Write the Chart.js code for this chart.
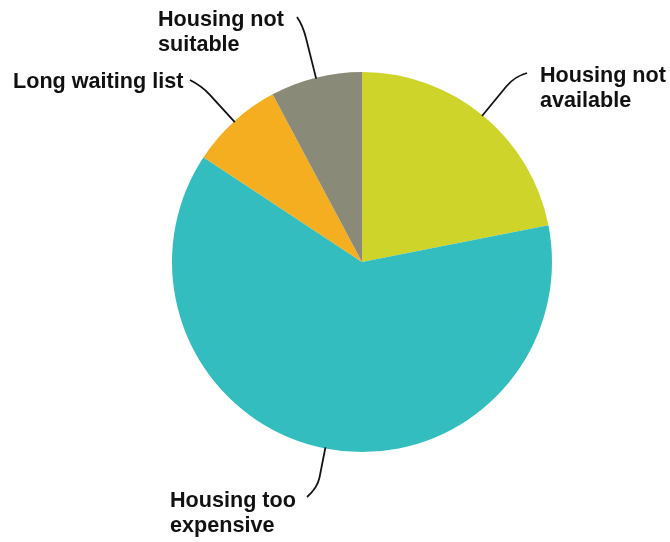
<!DOCTYPE html>
<html>
<head>
<meta charset="utf-8">
<script src="https://cdn.jsdelivr.net/npm/chart.js@4/dist/chart.umd.min.js"></script>
<style>
  html, body { margin: 0; padding: 0; background: #ffffff; }
  #wrap { width: 670px; height: 542px; position: relative; }
</style>
</head>
<body>
<div id="wrap"><canvas id="c" width="670" height="542"></canvas></div>
<script>
// ---- Data ----
const categories = ['Housing not available', 'Housing too expensive', 'Long waiting list', 'Housing not suitable'];
const shares = [21.9, 62.4, 7.9, 7.8];
const labelLines = [['Housing not', 'available'], ['Housing too', 'expensive'], ['Long waiting list'], ['Housing not', 'suitable']];
const sliceColors = ['#CFD42A', '#33BDBF', '#F5AE1F', '#8A8A78'];

// ---- Label layout (positions of the annotation text and leader hooks) ----
const labelLayout = [
  { x: 540, y: 82,  ext: 50, end: [527, 73] },
  { x: 170, y: 507, ext: 40, end: [307, 497] },
  { x: 13,  y: 88,  ext: 48, end: [190, 80] },
  { x: 158, y: 26,  ext: 54, end: [297, 17] }
];

const leaderPlugin = {
  id: 'leaderLabels',
  afterDraw(chart) {
    const ctx = chart.ctx;
    const meta = chart.getDatasetMeta(0);
    ctx.save();
    ctx.font = 'bold 21.6px "Liberation Sans", Arial, sans-serif';
    ctx.fillStyle = '#111111';
    ctx.strokeStyle = '#111111';
    ctx.lineWidth = 1.8;
    ctx.textAlign = 'left';
    ctx.textBaseline = 'alphabetic';
    meta.data.forEach((arc, i) => {
      const p = arc.getProps(['x', 'y', 'startAngle', 'endAngle', 'outerRadius'], true);
      const mid = (p.startAngle + p.endAngle) / 2;
      const cx = Math.cos(mid), cy = Math.sin(mid);
      const L = labelLayout[i];
      const sx = p.x + cx * (p.outerRadius - 1), sy = p.y + cy * (p.outerRadius - 1);
      const r1 = p.outerRadius + L.ext * 0.75, r2 = p.outerRadius + L.ext;
      ctx.beginPath();
      ctx.moveTo(sx, sy);
      ctx.lineTo(p.x + cx * r1, p.y + cy * r1);
      ctx.quadraticCurveTo(p.x + cx * r2, p.y + cy * r2, L.end[0], L.end[1]);
      ctx.stroke();
      labelLines[i].forEach((t, k) => ctx.fillText(t, L.x, L.y + k * 25));
    });
    ctx.restore();
  }
};

new Chart(document.getElementById('c'), {
  type: 'pie',
  data: {
    labels: categories,
    datasets: [{
      data: shares,
      backgroundColor: sliceColors,
      borderWidth: 0
    }]
  },
  options: {
    responsive: false,
    animation: false,
    layout: { padding: { left: 172, right: 118, top: 72, bottom: 90 } },
    plugins: { legend: { display: false }, tooltip: { enabled: false } }
  },
  plugins: [leaderPlugin]
});
</script>
</body>
</html>
